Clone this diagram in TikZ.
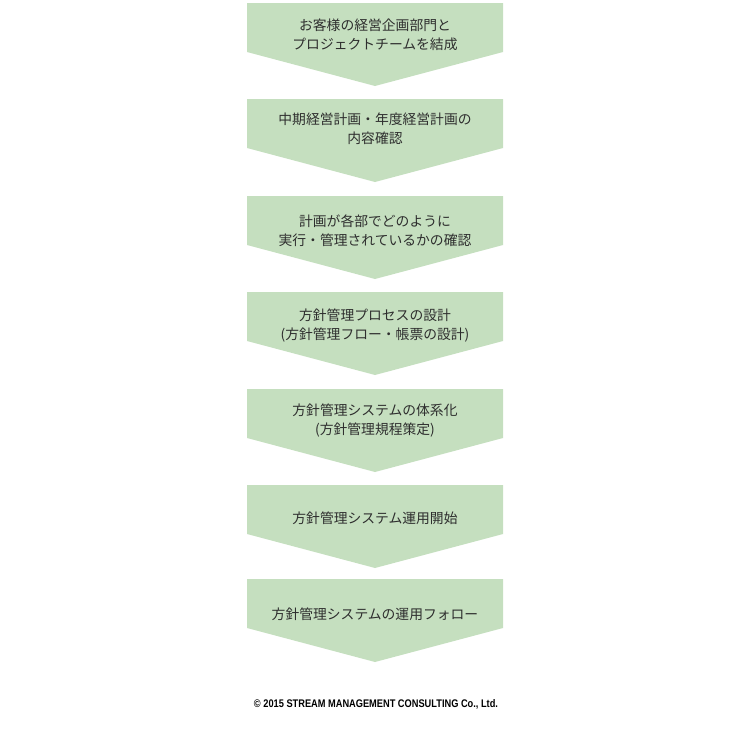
\documentclass[tikz,border=0pt]{standalone}
\usepackage{fontspec}
\usepackage{graphicx}
\newfontfamily\jpfont{Noto Sans CJK JP}
\newfontfamily\copyfont{Liberation Sans}
\definecolor{stepgreen}{HTML}{C5DFBF}
\definecolor{steptext}{HTML}{2E2E2E}
\begin{document}
\begin{tikzpicture}[x=1pt,y=-1pt,
  stepshape/.style={fill=stepgreen,draw=none},
  steplabel/.style={text=steptext,font=\jpfont\fontsize{13.8pt}{19pt}\selectfont,align=center,inner sep=0pt}]
\useasboundingbox (0,0) rectangle (750,731);
\foreach \t [count=\i] in {3,99,196,292,389,485,579}{
  \fill[stepshape] (247,\t) -- (503,\t) -- (503,\t+49) -- (375,\t+83) -- (247,\t+49) -- cycle;
}
\node[steplabel] (s1) at (375,34.5) {お客様の経営企画部門と\\プロジェクトチームを結成};
\node[steplabel] (s2) at (375,129) {中期経営計画・年度経営計画の\\内容確認};
\node[steplabel] (s3) at (375,231) {計画が各部でどのように\\実行・管理されているかの確認};
\node[steplabel] (s4) at (375,326) {方針管理プロセスの設計\\(方針管理フロー・帳票の設計)};
\node[steplabel] (s5) at (375,421) {方針管理システムの体系化\\(方針管理規程策定)};
\node[steplabel] (s6) at (375,518) {方針管理システム運用開始};
\node[steplabel] (s7) at (375,614) {方針管理システムの運用フォロー};
\node[text=black,inner sep=0pt] (copy) at (376,704) {\resizebox{244pt}{8pt}{\copyfont\bfseries © 2015 STREAM MANAGEMENT CONSULTING Co., Ltd.}};
\end{tikzpicture}
\end{document}
